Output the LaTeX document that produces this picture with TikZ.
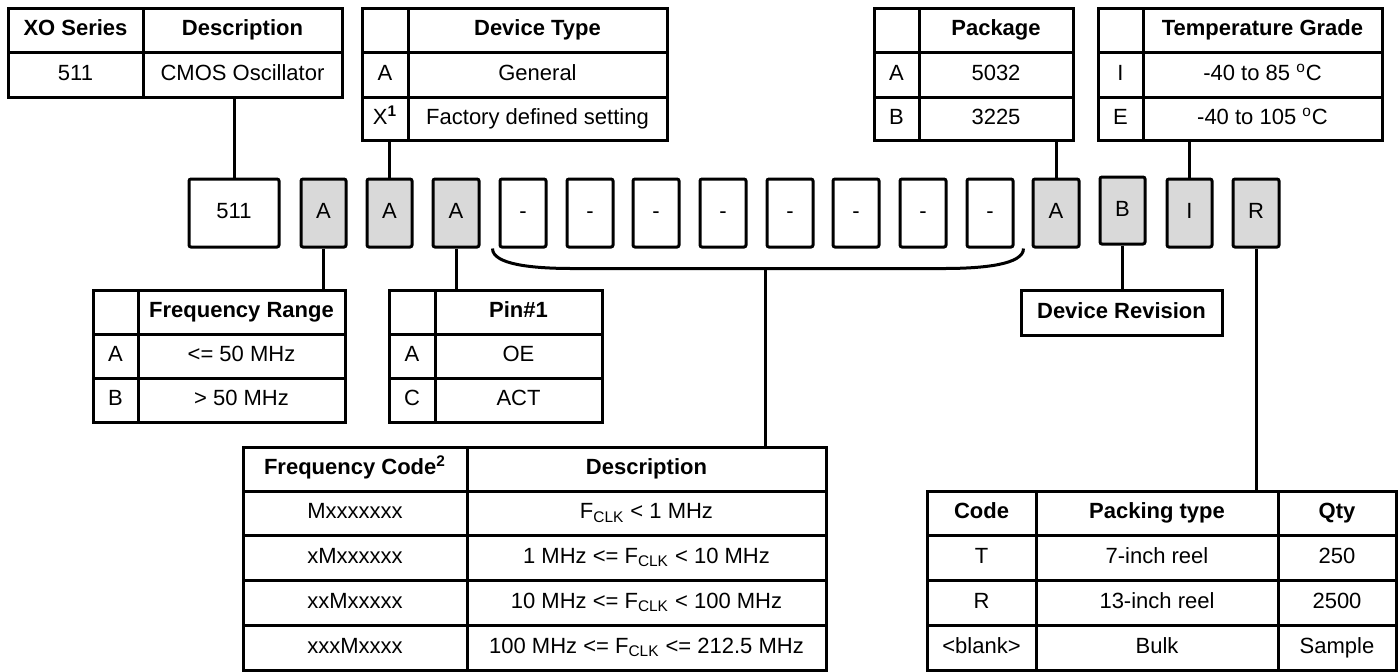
\documentclass[tikz,border=0pt]{standalone}
\usepackage{fontspec}
\setmainfont{Liberation Sans}
\usetikzlibrary{calc}
\definecolor{boxgray}{RGB}{217,217,217}
\newcommand\cellbox[6]{%
  \pgfmathsetmacro\mycw{(#4-#2)*0.5}%
  \pgfmathsetmacro\mych{(#5-#3)*0.5}%
  \node[cell, minimum width=\mycw pt, minimum height=\mych pt] (#1) at ({(#2+#4)/2},{(#3+#5)/2}) {#6};}
\newcommand\codebox[6]{%
  \pgfmathsetmacro\mycw{(#4-#2)*0.5}%
  \pgfmathsetmacro\mych{(#5-#3)*0.5}%
  \node[pbox, #6, minimum width=\mycw pt, minimum height=\mych pt] (#1) at ({(#2+#4)/2},{(#3+#5)/2}) {\csname codetext#1\endcsname};}
\tikzset{
  cell/.style={draw, line width=1.5pt, inner sep=0pt, text height=8pt, text depth=2.2pt, font=\fontsize{11}{13}\selectfont},
  pbox/.style={draw, line width=1.5pt, rounded corners=1pt, inner sep=0pt, text height=8pt, text depth=2.2pt, font=\fontsize{11}{13}\selectfont},
  grayfill/.style={fill=boxgray},
  whitefill/.style={fill=white},
  conn/.style={line width=1.5pt}
}
\begin{document}
\begin{tikzpicture}[x=0.5pt, y=-0.5pt]
\useasboundingbox (0,0) rectangle (1399,671);
% XO Series table
\cellbox{xoh1}{8}{8}{143}{52}{\bfseries XO Series}
\cellbox{xoh2}{143}{8}{342}{52}{\bfseries Description}
\cellbox{xor1}{8}{52}{143}{97}{511}
\cellbox{xor2}{143}{52}{342}{97}{CMOS Oscillator}
% Device type
\cellbox{dth1}{362}{8}{408}{52}{}
\cellbox{dth2}{408}{8}{667}{52}{\bfseries Device Type}
\cellbox{dta1}{362}{52}{408}{97}{A}
\cellbox{dta2}{408}{52}{667}{97}{General}
\cellbox{dtx1}{362}{97}{408}{140}{X\textsuperscript{\bfseries 1}}
\cellbox{dtx2}{408}{97}{667}{140}{Factory defined setting}
% Package
\cellbox{pkh1}{874}{8}{919}{52}{}
\cellbox{pkh2}{919}{8}{1073}{52}{\bfseries Package}
\cellbox{pka1}{874}{52}{919}{97}{A}
\cellbox{pka2}{919}{52}{1073}{97}{5032}
\cellbox{pkb1}{874}{97}{919}{140}{B}
\cellbox{pkb2}{919}{97}{1073}{140}{3225}
% Temperature
\cellbox{tgh1}{1098}{8}{1143}{52}{}
\cellbox{tgh2}{1143}{8}{1382}{52}{\bfseries Temperature Grade}
\cellbox{tgi1}{1098}{52}{1143}{97}{I}
\cellbox{tgi2}{1143}{52}{1382}{97}{-40 to 85 \textsuperscript{o}C}
\cellbox{tge1}{1098}{97}{1143}{140}{E}
\cellbox{tge2}{1143}{97}{1382}{140}{-40 to 105 \textsuperscript{o}C}
% Code boxes
\def\codetextbs{511}\def\codetextba{A}\def\codetextbb{A}\def\codetextbc{A}
\def\codetextda{-}\def\codetextdb{-}\def\codetextdc{-}\def\codetextdd{-}
\def\codetextde{-}\def\codetextdf{-}\def\codetextdg{-}\def\codetextdh{-}
\def\codetextbp{A}\def\codetextbr{B}\def\codetextbi{I}\def\codetextbk{R}
\codebox{bs}{189}{179}{279}{247}{whitefill}
\codebox{ba}{301}{179}{346}{247}{grayfill}
\codebox{bb}{367}{179}{412}{247}{grayfill}
\codebox{bc}{433}{179}{479}{247}{grayfill}
\codebox{da}{500}{179}{546}{247}{whitefill}
\codebox{db}{567}{179}{613}{247}{whitefill}
\codebox{dc}{633}{179}{679}{247}{whitefill}
\codebox{dd}{700}{179}{746}{247}{whitefill}
\codebox{de}{767}{179}{813}{247}{whitefill}
\codebox{df}{833}{179}{879}{247}{whitefill}
\codebox{dg}{900}{179}{946}{247}{whitefill}
\codebox{dh}{967}{179}{1013}{247}{whitefill}
\codebox{bp}{1033}{179}{1079}{247}{grayfill}
\codebox{br}{1100}{177}{1145}{244}{grayfill}
\codebox{bi}{1167}{179}{1212}{247}{grayfill}
\codebox{bk}{1233}{179}{1279}{247}{grayfill}
% Frequency range
\cellbox{frh1}{93}{290}{138}{334}{}
\cellbox{frh2}{138}{290}{345}{334}{\bfseries Frequency Range}
\cellbox{fra1}{93}{334}{138}{378}{A}
\cellbox{fra2}{138}{334}{345}{378}{<= 50 MHz}
\cellbox{frb1}{93}{378}{138}{422}{B}
\cellbox{frb2}{138}{378}{345}{422}{> 50 MHz}
% Pin#1
\cellbox{pnh1}{389}{290}{435}{334}{}
\cellbox{pnh2}{435}{290}{602}{334}{\bfseries Pin\#1}
\cellbox{pna1}{389}{334}{435}{378}{A}
\cellbox{pna2}{435}{334}{602}{378}{OE}
\cellbox{pnc1}{389}{378}{435}{422}{C}
\cellbox{pnc2}{435}{378}{602}{422}{ACT}
% Device revision
\cellbox{drev}{1021}{290}{1222}{335}{\bfseries Device Revision}
% Frequency code
\cellbox{fch1}{243}{447}{467}{491}{\bfseries Frequency Code\textsuperscript{2}}
\cellbox{fch2}{467}{447}{826}{491}{\bfseries Description}
\cellbox{fc11}{243}{491}{467}{535}{Mxxxxxxx}
\cellbox{fc12}{467}{491}{826}{535}{F\textsubscript{CLK} < 1 MHz}
\cellbox{fc21}{243}{535}{467}{580}{xMxxxxxx}
\cellbox{fc22}{467}{535}{826}{580}{1 MHz <= F\textsubscript{CLK} < 10 MHz}
\cellbox{fc31}{243}{580}{467}{625}{xxMxxxxx}
\cellbox{fc32}{467}{580}{826}{625}{10 MHz <= F\textsubscript{CLK} < 100 MHz}
\cellbox{fc41}{243}{625}{467}{670}{xxxMxxxx}
\cellbox{fc42}{467}{625}{826}{670}{100 MHz <= F\textsubscript{CLK} <= 212.5 MHz}
% Packing
\cellbox{pch1}{927}{491}{1036}{535}{\bfseries Code}
\cellbox{pch2}{1036}{491}{1278}{535}{\bfseries Packing type}
\cellbox{pch3}{1278}{491}{1396}{535}{\bfseries Qty}
\cellbox{pct1}{927}{535}{1036}{580}{T}
\cellbox{pct2}{1036}{535}{1278}{580}{7-inch reel}
\cellbox{pct3}{1278}{535}{1396}{580}{250}
\cellbox{pcr1}{927}{580}{1036}{625}{R}
\cellbox{pcr2}{1036}{580}{1278}{625}{13-inch reel}
\cellbox{pcr3}{1278}{580}{1396}{625}{2500}
\cellbox{pcb1}{927}{625}{1036}{670}{<blank>}
\cellbox{pcb2}{1036}{625}{1278}{670}{Bulk}
\cellbox{pcb3}{1278}{625}{1396}{670}{Sample}
% Connectors
\draw[conn] (bs.north) -- (bs.north |- xor2.south);
\draw[conn] (bb.north) -- (bb.north |- dtx1.south);
\draw[conn] (bp.north) -- (bp.north |- pkb2.south);
\draw[conn] (bi.north) -- (bi.north |- tge2.south);
\draw[conn] (ba.south) -- (ba.south |- frh2.north);
\draw[conn] (bc.south) -- (bc.south |- pnh2.north);
\draw[conn] (br.south) -- (br.south |- drev.north);
\draw[conn] (bk.south) -- (bk.south |- pch2.north);
% Brace
\coordinate (brl) at ($(da.south west)+(-6,0)$);
\coordinate (brr) at ($(dh.south east)+(9,0)$);
\coordinate (brc) at (de.south west |- 0,267);
\draw[conn] (brl) .. controls ($(brl)+(0,16)$) and ($(brl)+(40,20)$) .. ($(brl)+(80,20)$)
  -- ($(brr)+(-80,20)$) .. controls ($(brr)+(-40,20)$) and ($(brr)+(0,16)$) .. (brr);
\draw[conn] (brc) -- (brc |- fch2.north);
\end{tikzpicture}
\end{document}
